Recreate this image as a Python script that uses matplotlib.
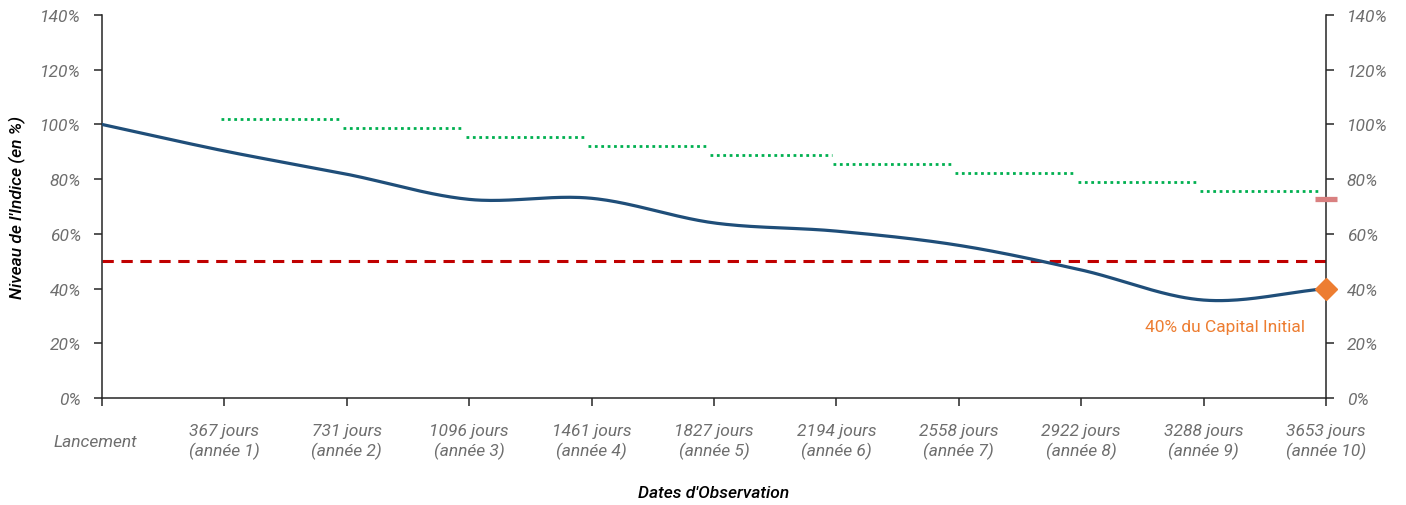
import numpy as np
import matplotlib
matplotlib.use("Agg")
import matplotlib.pyplot as plt
from matplotlib.transforms import ScaledTranslation

# --- data -------------------------------------------------------------
tick_labels = ["Lancement",
               "367 jours\n(année 1)", "731 jours\n(année 2)", "1096 jours\n(année 3)",
               "1461 jours\n(année 4)", "1827 jours\n(année 5)", "2194 jours\n(année 6)",
               "2558 jours\n(année 7)", "2922 jours\n(année 8)", "3288 jours\n(année 9)",
               "3653 jours\n(année 10)"]
index_level = [100.0, 90.3, 81.8, 72.6, 73.0, 64.0, 61.0, 55.8, 46.8, 35.8, 40.0]
autocall_barrier = [101.9, 98.6, 95.3, 92.1, 88.8, 85.5, 82.2, 79.0, 75.7]
final_barrier = 72.6
capital_barrier = 50.0
final_value = 40.0
final_label = "40% du Capital Initial"

plt.rcParams["font.family"] = ["Roboto", "DejaVu Sans"]
TICK_GREY = "#6e6e6e"


def catmull_rom(y, n=40):
    """Smooth curve through equally spaced points (spreadsheet-style smoothing)."""
    y = np.asarray(y, float)
    pts = np.concatenate([[2 * y[0] - y[1]], y, [2 * y[-1] - y[-2]]])
    xs, ys = [], []
    for i in range(len(y) - 1):
        p0, p1, p2, p3 = pts[i], pts[i + 1], pts[i + 2], pts[i + 3]
        t = np.linspace(0, 1, n, endpoint=False)
        m1 = (p2 - p0) / 2
        m2 = (p3 - p1) / 2
        h00 = 2 * t**3 - 3 * t**2 + 1
        h10 = t**3 - 2 * t**2 + t
        h01 = -2 * t**3 + 3 * t**2
        h11 = t**3 - t**2
        xs.append(i + t)
        ys.append(h00 * p1 + h10 * m1 + h01 * p2 + h11 * m2)
    xs.append([len(y) - 1])
    ys.append([y[-1]])
    return np.concatenate(xs), np.concatenate(ys)


fig = plt.figure(figsize=(14.06, 5.06), dpi=100)
ax = fig.add_axes([102 / 1406, 1 - 399 / 506, (1326 - 102) / 1406, (399 - 16) / 506])
n = len(index_level) - 1
ax.set_xlim(0, n)
ax.set_ylim(0, 140)

# capital protection barrier
ax.plot([0, n], [capital_barrier] * 2, color="#C00000", lw=2.2,
        dashes=(3.7, 2.5), dash_capstyle="butt", zorder=2)

# autocall levels, one dotted step per observation year
for k, lvl in enumerate(autocall_barrier, start=1):
    ax.plot([k - 0.03, min(k + 0.96, n)], [lvl, lvl], color="#00B050", lw=2.0,
            dashes=(1, 1.3), dash_capstyle="butt", zorder=2)

# index path
xs, ys = catmull_rom(index_level)
ax.plot(xs, ys, color="#1F4E79", lw=2.3, solid_capstyle="round", zorder=3)

# final barrier marker and final value
ax.plot([n], [final_barrier], marker="_", ms=16, mew=3.8, color="#D98080",
        clip_on=False, zorder=4)
ax.plot([n], [final_value], marker="D", ms=11.5, color="#ED7D31", mec="#ED7D31",
        clip_on=False, zorder=4)
ax.text(n - 0.17, 26, final_label, color="#ED7D31", fontsize=12.5,
        ha="right", va="center")

# axes styling
ax.spines["top"].set_visible(False)
for side in ("left", "right", "bottom"):
    ax.spines[side].set_color("#262626")
    ax.spines[side].set_linewidth(1.1)

yt = np.arange(0, 141, 20)
ax.set_yticks(yt)
ax.set_yticklabels([f"{v}%" for v in yt])
ax.tick_params(axis="y", which="both", left=True, right=True, labelleft=True,
               labelright=True, length=6, width=1.1, color="#262626",
               labelcolor=TICK_GREY, labelsize=12.5, pad=9, direction="out")
for t in ax.yaxis.get_major_ticks():
    for lab in (t.label1, t.label2):
        lab.set_style("italic")

ax.set_xticks(range(n + 1))
ax.set_xticklabels(tick_labels)
ax.tick_params(axis="x", length=6, width=1.1, color="#262626",
               labelcolor=TICK_GREY, labelsize=12.5, pad=25)
for lab in ax.get_xticklabels():
    lab.set_style("italic")
    lab.set_verticalalignment("center")
    lab.set_linespacing(1.3)
first = ax.get_xticklabels()[0]
first.set_transform(first.get_transform() + ScaledTranslation(-7 / 100, 0, fig.dpi_scale_trans))

ax.set_ylabel("Niveau de l'Indice (en %)", fontsize=12.5, style="italic",
              fontweight="medium", color="black", va="center")
ax.yaxis.set_label_coords(-(102 - 17) / 1224, 0.5)
ax.set_xlabel("Dates d'Observation", fontsize=12.5, style="italic",
              fontweight="medium", color="black", va="center")
ax.xaxis.set_label_coords(0.5, -(494 - 399) / 383)

fig.savefig("out.png", dpi=100)
